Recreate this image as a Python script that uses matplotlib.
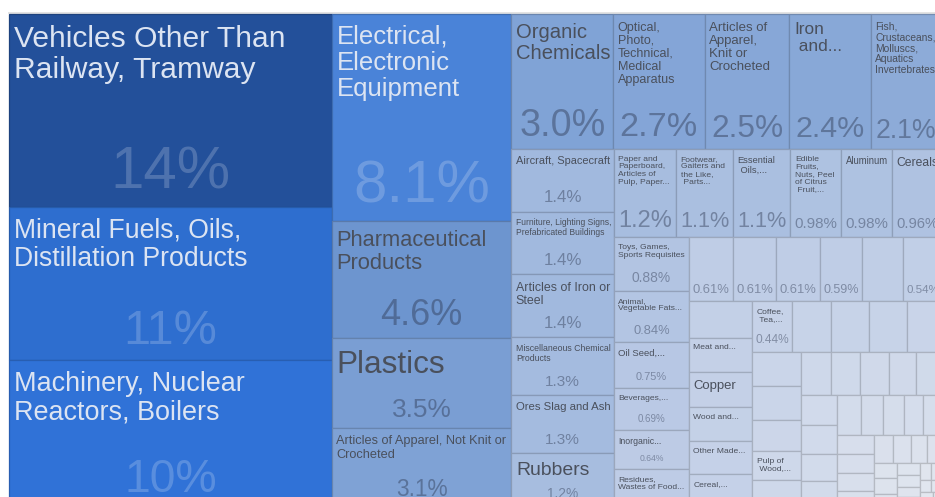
import matplotlib
matplotlib.use("Agg")
import matplotlib.pyplot as plt
import numpy as np
from matplotlib.colors import LinearSegmentedColormap, to_rgb
from matplotlib.patches import Rectangle
from matplotlib.textpath import TextPath
from matplotlib.font_manager import FontProperties

# export shares (%) of each product, largest first; None = cell drawn without any text,
# "" = share only, no name
shares = [13.6, 10.8, 10.35, 8.1, 4.6, 3.5, 3.1, 3.0, 2.7, 2.5, 2.4, 2.1,
          1.4, 1.4, 1.4, 1.3, 1.3, 1.2, 1.2, 1.1, 1.1, 0.98, 0.98, 0.96,
          0.88, 0.84, 0.75, 0.69, 0.64, 0.62,
          0.61, 0.61, 0.61, 0.59, 0.57, 0.54,
          0.50, 0.48, 0.48, 0.47, 0.46, 0.45,
          0.44, 0.42, 0.42, 0.42, 0.38,
          0.36, 0.36, 0.33, 0.30, 0.29, 0.29, 0.28, 0.27, 0.26, 0.25, 0.24,
          0.23, 0.22, 0.21, 0.20, 0.19, 0.18, 0.17, 0.16, 0.15, 0.15, 0.14,
          0.13, 0.12, 0.11, 0.10, 0.09, 0.08, 0.08, 0.07, 0.06, 0.06, 0.05,
          0.05, 0.04, 0.04, 0.03, 0.03, 0.02, 0.02, 0.02, 0.01]

labels = ["Vehicles Other Than\nRailway, Tramway",
          "Mineral Fuels, Oils,\nDistillation Products",
          "Machinery, Nuclear\nReactors, Boilers",
          "Electrical,\nElectronic\nEquipment",
          "Pharmaceutical\nProducts",
          "Plastics",
          "Articles of Apparel, Not Knit or\nCrocheted",
          "Organic\nChemicals",
          "Optical,\nPhoto,\nTechnical,\nMedical\nApparatus",
          "Articles of\nApparel,\nKnit or\nCrocheted",
          "Iron\n and...",
          "Fish,\nCrustaceans,\nMolluscs,\nAquatics\nInvertebrates",
          "Aircraft, Spacecraft",
          "Furniture, Lighting Signs,\nPrefabricated Buildings",
          "Articles of Iron or\nSteel",
          "Miscellaneous Chemical\nProducts",
          "Ores Slag and Ash",
          "Rubbers",
          "Paper and\nPaperboard,\nArticles of\nPulp, Paper...",
          "Footwear,\nGaiters and\nthe Like,\n Parts...",
          "Essential\n Oils,...",
          "Edible\nFruits,\nNuts, Peel\nof Citrus\n Fruit,...",
          "Aluminum",
          "Cereals",
          "Toys, Games,\nSports Requisites",
          "Animal,\nVegetable Fats...",
          "Oil Seed,...",
          "Beverages,...",
          "Inorganic...",
          "Residues,\nWastes of Food...",
          "", "", "", "", None, "",
          None, "Meat and...", "Copper", "Wood and...", "Other Made...", "Cereal,...",
          "Coffee,\n Tea,...", None, None, None, None,
          None, None, None, "Pulp of\n Wood,..."]
labels += [None] * (len(shares) - len(labels))

FONT = "Liberation Sans"
fp = FontProperties(family=FONT)

# colour ramp over the share (log scale)
ramp = [(0.01, "#E6E9F0"), (0.1, "#DCE2ED"), (0.3, "#CED8EA"), (0.6, "#BFCDE6"),
        (1.0, "#ADC1E1"), (1.4, "#A2B9DE"), (2.1, "#8DABD8"), (3.0, "#81A3D6"),
        (4.6, "#6E95CF"), (8.1, "#4B84D8"), (10.35, "#3275DD"), (10.8, "#2E6FD0"),
        (13.6, "#23509A")]
lv = np.log10([r[0] for r in ramp])
pos = (lv - lv[0]) / (lv[-1] - lv[0])
cmap = LinearSegmentedColormap.from_list("oec", list(zip(pos, [r[1] for r in ramp])))


def fill_color(v):
    return cmap((np.log10(v) - lv[0]) / (lv[-1] - lv[0]))


def squarify(vals, x0, y0, x1, y1, ratio=(1 + 5 ** 0.5) / 2):
    # same logic as d3.treemapSquarify
    n = len(vals)
    out = [None] * n
    value = float(sum(vals))
    i0 = i1 = 0
    while i0 < n:
        dx, dy = x1 - x0, y1 - y0
        s = vals[i1]
        i1 += 1
        lo = hi = s
        alpha = max(dy / dx, dx / dy) / (value * ratio)
        beta = s * s * alpha
        best = max(hi / beta, beta / lo)
        while i1 < n:
            v = vals[i1]
            s2, lo2, hi2 = s + v, min(lo, v), max(hi, v)
            beta = s2 * s2 * alpha
            r = max(hi2 / beta, beta / lo2)
            if r > best:
                break
            s, lo, hi, best = s2, lo2, hi2, r
            i1 += 1
        if dx < dy:
            yb = y0 + dy * s / value
            x = x0
            for i in range(i0, i1):
                w = dx * vals[i] / s
                out[i] = (x, y0, w, yb - y0)
                x += w
            y0 = yb
        else:
            xb = x0 + dx * s / value
            y = y0
            for i in range(i0, i1):
                h = dy * vals[i] / s
                out[i] = (x0, y, xb - x0, h)
                y += h
            x0 = xb
        value -= s
        i0 = i1
    return out


def em_width(s):
    if not s.strip():
        return 0.0
    return TextPath((0, 0), s, size=100, prop=fp).get_extents().width / 100.0


def fmt(v):
    if v >= 10:
        return f"{v:.0f}%"
    if v >= 1:
        return f"{v:.1f}%"
    return f"{v:.2f}%"


W, H = 935, 497
fig = plt.figure(figsize=(W / 100, H / 100), dpi=100)
ax = fig.add_axes([0, 0, 1, 1])
ax.set_xlim(0, W)
ax.set_ylim(H, 0)
ax.axis("off")

PX = 0.72  # px -> pt at dpi 100

ax.add_patch(Rectangle((8, 11.5), W, 2.5, color="#E3E3E3", lw=0))

rects = squarify(shares, 9, 14, 942, 507)

for v, lab, (x, y, w, h) in zip(shares, labels, rects):
    fc = fill_color(v)
    ec = tuple(c * 0.82 for c in to_rgb(fc))
    ax.add_patch(Rectangle((x, y), w, h, facecolor=fc, edgecolor=ec, lw=0.9))
    if lab is None:
        continue
    r, g, b = to_rgb(fc)
    dark = (0.299 * r + 0.587 * g + 0.114 * b) < 0.52

    # share text, bottom centre
    txt = fmt(v)
    s_em = min(0.35 * h - 5, 0.82 * w / em_width(txt), 60)
    if s_em >= 8.5:
        ax.text(x + w / 2, y + h - (6 + 0.2 * s_em), txt, family=[FONT, "DejaVu Sans"],
                fontsize=s_em * PX, ha="center", va="baseline",
                color="white" if dark else "#28324A", alpha=0.2 if dark else 0.42)

    if lab:
        lines = lab.split("\n")
        total = em_width(lab.replace("\n", " "))
        if lab.endswith("..."):
            total *= 2  # the name was cut short, so it was fitted at its full length
        widest = max(em_width(l) for l in lines)
        em = min(np.sqrt(w * h / (4.0 * total)), (w - 9) / widest, 31.5)
        em = max(em, 8.5)
        ax.text(x + 4.5, y + 5 + 0.2 * em, lab, family=[FONT, "DejaVu Sans"],
                fontsize=em * PX, ha="left", va="top", linespacing=1.13,
                color="#DCE4F2" if dark else "#4A505C")

fig.savefig("out.png", dpi=100)
